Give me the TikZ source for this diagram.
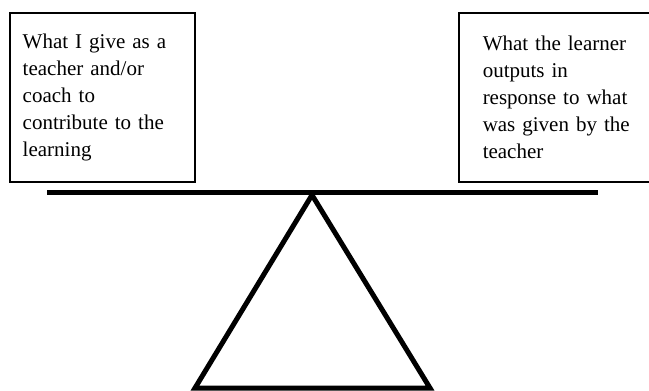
\documentclass[tikz,border=0pt]{standalone}
\usepackage{fontspec}
\setmainfont{Liberation Serif}
\usetikzlibrary{positioning}

\tikzset{
  textbox/.style={draw, line width=1.5pt, minimum height=169pt, align=left,
    anchor=north west, font=\fontsize{21}{27}\selectfont},
  beam/.style={line width=5pt},
}

\begin{document}
\begin{tikzpicture}[x=1pt,y=-1pt]
\useasboundingbox (0,0) rectangle (649,391);
\clip (0,0) rectangle (649,391);
% the two sides of the balance
\node[textbox, minimum width=185pt, text width=159pt, inner xsep=13pt] (give) at (9,12)
  {What I give as a\\teacher and/or\\coach to\\contribute to the\\learning};
\node[textbox, minimum width=220pt, text width=172pt, inner xsep=24pt] (output) at (458,12)
  {What the learner\\outputs in\\response to what\\was given by the\\teacher};
% beam and fulcrum
\coordinate (pivot) at (312,195);
\draw[beam] (47,192) -- (598,192);
\draw[beam] (pivot) -- (195,388) -- (430,388) -- cycle;
\end{tikzpicture}
\end{document}
